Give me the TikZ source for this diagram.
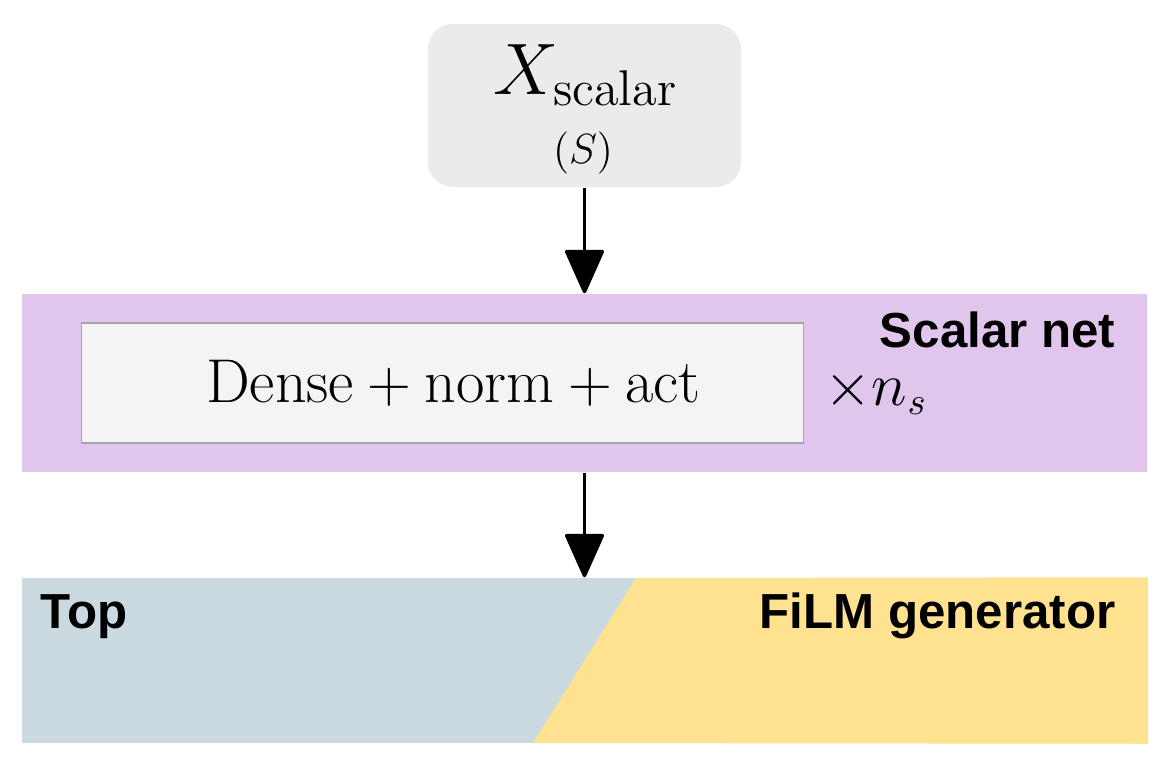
\documentclass[tikz,border=0pt]{standalone}
\usepackage{amsmath}
\usepackage{fontspec}
\newfontfamily\labelfont{Liberation Sans}
\usetikzlibrary{arrows.meta}

\definecolor{inputgray}{HTML}{EBEBEB}
\definecolor{scalarpurple}{HTML}{E0C6EC}
\definecolor{densefill}{HTML}{F4F4F4}
\definecolor{denseborder}{HTML}{A6A6A6}
\definecolor{topblue}{HTML}{CBDAE0}
\definecolor{filmyellow}{HTML}{FFE290}

\begin{document}
\begin{tikzpicture}[x=0.01cm,y=-0.01cm,
    inbox/.style={fill=inputgray, rounded corners=0.25cm, minimum width=3.13cm, minimum height=1.63cm},
    band/.style={minimum width=11.25cm, inner sep=0pt},
    layerbox/.style={fill=densefill, draw=denseborder, line width=0.4pt, minimum width=7.21cm, minimum height=1.2cm, inner sep=0pt},
    blocktitle/.style={font=\labelfont\bfseries\fontsize{14}{16}\selectfont, inner sep=0pt},
    flow/.style={-{Triangle[width=0.4cm,length=0.46cm,round]}, line width=1pt}]

   \useasboundingbox (0,0) rectangle (1171,767);

   % input
   \node[inbox] (xin) at (584.5,105.5) {};
   \node[anchor=base, inner sep=0pt] (xname) at (586,95) {\fontsize{20.4}{24}\selectfont $X_{\mathrm{scalar}}$};
   \node[anchor=base, inner sep=0pt] (xshape) at (583,163) {\fontsize{12.8}{15}\selectfont $(S)$};

   % scalar net
   \node[band, fill=scalarpurple, minimum height=1.78cm] (snet) at (584.5,383) {};
   \node[layerbox] (dense) at (442.5,383) {};
   \node[anchor=base, inner sep=0pt] (denselab) at (453.5,402) {\fontsize{17.6}{21}\selectfont $\mathrm{Dense}+\mathrm{norm}+\mathrm{act}$};
   \node[anchor=base west, inner sep=0pt] (reps) at (824,405) {\fontsize{16.2}{19}\selectfont $\times n_s$};
   \node[blocktitle, anchor=base east] (snettitle) at (1116,347) {Scalar net};

   % film generator
   \node[band, fill=topblue, minimum height=1.65cm] (film) at (584.5,660.5) {};
   \coordinate (cuttop) at (636,578);
   \coordinate (cutbot) at (533,743);
   \fill[filmyellow] (cuttop) -- (film.north east) -- (film.south east) -- (cutbot) -- cycle;
   %\draw (cuttop) -- (cutbot);
   \node[blocktitle, anchor=base west] (toptitle) at (40,628) {Top};
   \node[blocktitle, anchor=base east] (filmtitle) at (1116,628) {FiLM generator};

   \draw[flow] (xin) -- (snet);
   \draw[flow] (snet) -- (film);
\end{tikzpicture}
\end{document}
